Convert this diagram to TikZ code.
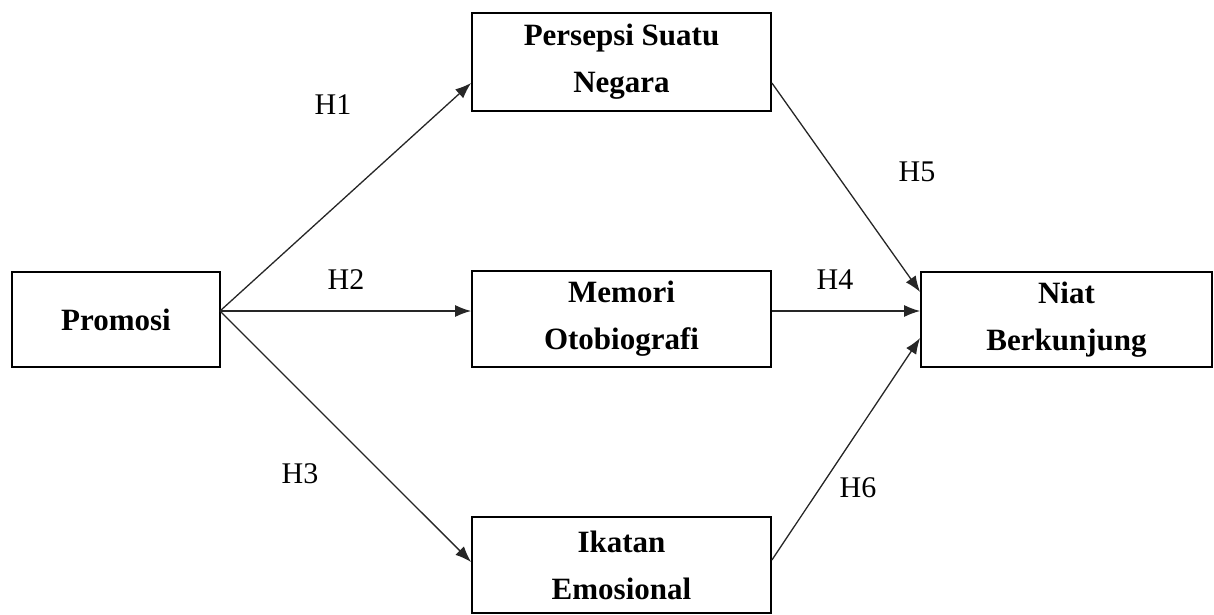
\documentclass[tikz,border=0pt]{standalone}
\usepackage{fontspec}
\setmainfont{Liberation Serif}
\usetikzlibrary{arrows.meta}
\begin{document}
\begin{tikzpicture}[x=1pt,y=-1pt,
  boxnode/.style={draw,line width=1.8pt,inner sep=0pt,align=center,
    font={\fontsize{31}{47}\selectfont\bfseries}},
  link/.style={line width=1.3pt,draw=black!85,-{Latex[length=16pt,width=12pt]}},
  hyp/.style={font={\fontsize{30}{34}\selectfont}}]
\useasboundingbox (0,0) rectangle (1214,615);
\node[boxnode,minimum width=208pt,minimum height=95pt] (pro) at (116,319.5) {Promosi};
\node[boxnode,minimum width=299pt,minimum height=98pt] (per) at (621.5,62) {Persepsi Suatu\\Negara};
\node[boxnode,minimum width=299pt,minimum height=96pt] (mem) at (621.5,319) {Memori\\Otobiografi};
\node[boxnode,minimum width=299pt,minimum height=96pt] (ika) at (621.5,565) {Ikatan\\Emosional};
\node[boxnode,minimum width=291pt,minimum height=95pt] (nia) at (1066.5,319.5) {Niat\\Berkunjung};
\coordinate (po) at (220,311);
\draw[link] (po) -- (per.west |- 0,83);
\draw[link] (po) -- (mem.west |- 0,311);
\draw[link] (po) -- (ika.west |- 0,562);
\draw[link] (per.east |- 0,83) -- (nia.west |- 0,292);
\draw[link] (mem.east |- 0,311) -- (nia.west |- 0,311);
\draw[link] (ika.east |- 0,560) -- (nia.west |- 0,338);
\node[hyp] (h1) at (333,105) {H1};
\node[hyp] (h2) at (346,280) {H2};
\node[hyp] (h3) at (300,474) {H3};
\node[hyp] (h4) at (835,280) {H4};
\node[hyp] (h5) at (917,172) {H5};
\node[hyp] (h6) at (858,488) {H6};
\end{tikzpicture}
\end{document}
